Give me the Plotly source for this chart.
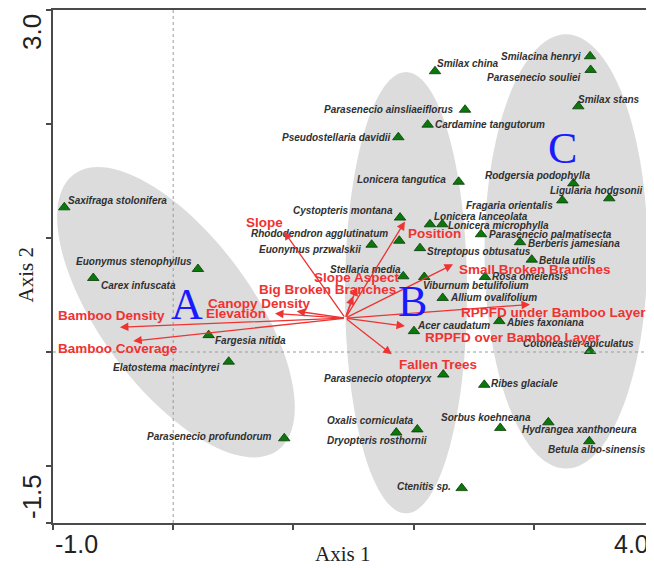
import numpy as np
import plotly.graph_objects as go

# ---------------- data ----------------
species = [
    "Saxifraga stolonifera", "Euonymus stenophyllus", "Carex infuscata", "Fargesia nitida",
    "Elatostema macintyrei", "Parasenecio profundorum", "Smilax china", "Smilacina henryi",
    "Parasenecio souliei", "Smilax stans", "Parasenecio ainsliaeiflorus", "Cardamine tangutorum",
    "Pseudostellaria davidii", "Lonicera tangutica", "Rodgersia podophylla", "Ligularia hodgsonii",
    "Fragaria orientalis", "Cystopteris montana", "Lonicera lanceolata", "Lonicera microphylla",
    "Rhododendron agglutinatum", "Euonymus przwalskii", "Parasenecio palmatisecta", "Berberis jamesiana",
    "Streptopus obtusatus", "Betula utilis", "Stellaria media", "Viburnum betulifolium",
    "Rosa omeiensis", "Allium ovalifolium", "Abies faxoniana", "Acer caudatum",
    "Cotoneaster apiculatus", "Parasenecio otopteryx", "Ribes glaciale", "Sorbus koehneana",
    "Hydrangea xanthoneura", "Betula albo-sinensis", "Oxalis corniculata", "Dryopteris rosthornii",
    "Ctenitis sp.",
]
species_x = [
    -0.906, 0.206, -0.665, 0.295, 0.462, 0.924, 2.178, 3.468,
    3.473, 3.370, 2.428, 2.117, 1.873, 2.375, 3.329, 3.628,
    3.237, 1.887, 2.136, 2.239, 1.881, 1.651, 2.561, 2.885,
    2.053, 2.983, 1.914, 2.089, 2.594, 2.242, 2.713, 2.003,
    3.468, 2.247, 2.588, 2.721, 3.121, 3.462, 2.031, 1.856,
    2.400,
]
species_y = [
    1.269, 0.728, 0.649, 0.148, -0.085, -0.757, 2.463, 2.594,
    2.474, 2.155, 2.125, 1.994, 1.884, 1.493, 1.479, 1.348,
    1.330, 1.179, 1.120, 1.120, 0.976, 0.941, 1.033, 0.963,
    0.911, 0.810, 0.664, 0.658, 0.658, 0.474, 0.271, 0.183,
    0.009, -0.198, -0.288, -0.666, -0.617, -0.783, -0.679, -0.707,
    -1.194,
]

env_vars = [
    "Slope", "Position", "Slope Aspect", "Big Broken Branches", "Canopy Density", "Elevation",
    "Bamboo Density", "Bamboo Coverage", "Small Broken Branches", "RPPFD under Bamboo Layer",
    "RPPFD over Bamboo Layer", "Fallen Trees",
]
env_x = [0.922, 1.928, 1.529, 1.496, 1.027, 0.847, -0.443, -0.332, 2.328, 2.968, 1.928, 1.818]
env_y = [1.057, 1.144, 0.568, 0.489, 0.358, 0.338, 0.218, 0.096, 0.769, 0.417, 0.227, -0.020]
arrow_origin_x = 1.432
arrow_origin_y = 0.297

group_names = ["A", "B", "C"]

x_range = [-1.0, 4.0]
y_range = [-1.5, 3.0]
x_tick_labels = ["-1.0", "4.0"]
y_tick_labels = ["3.0", "-1.5"]

# ---------------- style / layout ----------------
# the page body has an 8px margin, so the figure is 8px smaller than the window
W, H = 646, 560
ML, MR, MT, MB = 45, 0, 0, 45
PX_X = (W - ML - MR) / (x_range[1] - x_range[0])
PX_Y = (H - MT - MB) / (y_range[1] - y_range[0])

RED = "#ef3232"
GREEN = "#0a780a"
ELL = "#dcdcdc"
LAB_FONT = dict(family="Liberation Sans, Arial", size=10, color="#303030", weight="bold", style="italic")
ENV_FONT = dict(family="Liberation Sans, Arial", size=13.5, color=RED, weight="bold")

# label placement: (xanchor, dx px, dy px [screen down])
sp_label_pos = {
    "Saxifraga stolonifera": ("left", 2, -7), "Euonymus stenophyllus": ("right", -4, -8),
    "Carex infuscata": ("left", 6, 7), "Fargesia nitida": ("left", 4, 5),
    "Elatostema macintyrei": ("right", -8, 6), "Parasenecio profundorum": ("right", -10, -2),
    "Smilax china": ("left", 0, -8), "Smilacina henryi": ("right", -7, 0),
    "Parasenecio souliei": ("right", -8, 8), "Smilax stans": ("left", -2, -7),
    "Parasenecio ainsliaeiflorus": ("right", -10, 0), "Cardamine tangutorum": ("left", 5, 0),
    "Pseudostellaria davidii": ("right", -5, 0), "Lonicera tangutica": ("right", -11, -2),
    "Rodgersia podophylla": ("right", 19, -8), "Ligularia hodgsonii": ("right", 35, -8),
    "Fragaria orientalis": ("right", -7, 5), "Cystopteris montana": ("right", -5, -7),
    "Lonicera lanceolata": ("left", 2, -8), "Lonicera microphylla": ("left", 4, 1),
    "Rhododendron agglutinatum": ("right", -9, -7), "Euonymus przwalskii": ("right", -9, 5),
    "Parasenecio palmatisecta": ("left", 6, 0), "Berberis jamesiana": ("left", 6, 1),
    "Streptopus obtusatus": ("left", 5, 3), "Betula utilis": ("left", 5, 1),
    "Stellaria media": ("right", 0, -7), "Viburnum betulifolium": ("left", -3, 9),
    "Rosa omeiensis": ("left", 5, 0), "Allium ovalifolium": ("left", 5, 0),
    "Abies faxoniana": ("left", 5, 1), "Acer caudatum": ("left", 1, -6),
    "Cotoneaster apiculatus": ("right", 46, -7), "Parasenecio otopteryx": ("right", -9, 4),
    "Ribes glaciale": ("left", 5, -1), "Sorbus koehneana": ("right", 33, -10),
    "Hydrangea xanthoneura": ("left", -28, 7), "Betula albo-sinensis": ("left", -43, 8),
    "Oxalis corniculata": ("right", -1, -9), "Dryopteris rosthornii": ("right", 33, 8),
    "Ctenitis sp.": ("right", -9, -2),
}
env_label_pos = {
    "Slope": ("right", 1, -9), "Position": ("left", 1, 12),
    "Slope Aspect": ("center", 0, -10), "Big Broken Branches": ("right", 45, -7),
    "Canopy Density": ("right", 16, -8), "Elevation": ("right", -7, 0),
    "Bamboo Density": ("right", 47, -12), "Bamboo Coverage": ("right", 47, 7),
    "Small Broken Branches": ("left", 4, 5), "RPPFD under Bamboo Layer": ("right", 118, 8),
    "RPPFD over Bamboo Layer": ("left", 18, 11), "Fallen Trees": ("left", 5, 10),
}
# group letters: label position and ellipse geometry (center data, semi-axes px, angle deg)
group_label_pos = {"A": (0.112, 0.417), "B": (1.993, 0.445), "C": (3.240, 1.784)}
group_ellipse = {
    "A": (0.023, 0.349, 172, 76, 53.7),
    "B": (1.937, 0.520, 221.5, 61, 90.0),
    "C": (3.268, 0.882, 218, 81.5, 90.0),
}

fig = go.Figure()

shapes = []
tt = np.linspace(0, 2 * np.pi, 121)
for g in group_names:
    cx, cy, a, b, ang = group_ellipse[g]
    th = np.radians(ang)
    dxp = a * np.cos(tt) * np.cos(th) - b * np.sin(tt) * np.sin(th)
    dyp = a * np.cos(tt) * np.sin(th) + b * np.sin(tt) * np.cos(th)
    xs = cx + dxp / PX_X
    ys = cy - dyp / PX_Y
    path = "M " + " L ".join(f"{x:.4f},{y:.4f}" for x, y in zip(xs, ys)) + " Z"
    shapes.append(dict(type="path", path=path, xref="x", yref="y", fillcolor=ELL,
                       line=dict(width=0), layer="below"))
# dotted zero lines (drawn over the ellipses)
shapes.append(dict(type="line", xref="x", yref="paper", x0=0, x1=0, y0=0, y1=1,
                   line=dict(color="#9a9a9a", width=1, dash="dot"), layer="above"))
shapes.append(dict(type="line", xref="paper", yref="y", x0=0, x1=1, y0=0, y1=0,
                   line=dict(color="#9a9a9a", width=1, dash="dot"), layer="above"))
# right frame
shapes.append(dict(type="line", xref="paper", yref="paper", x0=1, x1=1, y0=0, y1=1,
                   line=dict(color="#c8c8c8", width=1)))

fig.add_trace(go.Scatter(
    x=species_x, y=species_y, mode="markers", text=species, hoverinfo="text",
    marker=dict(symbol="triangle-up", size=10, color=GREEN, line=dict(color="#0a3a0a", width=0.8)),
    showlegend=False, cliponaxis=False,
))

ann = []
for name, x, y in zip(species, species_x, species_y):
    anc, dx, dy = sp_label_pos[name]
    ann.append(dict(x=x, y=y, xref="x", yref="y", text=name, showarrow=False,
                    xanchor=anc, yanchor="middle", xshift=dx, yshift=-dy, font=LAB_FONT))

for name, x, y in zip(env_vars, env_x, env_y):
    ann.append(dict(x=x, y=y, ax=arrow_origin_x, ay=arrow_origin_y, xref="x", yref="y",
                    axref="x", ayref="y", text="", showarrow=True, arrowhead=2,
                    arrowsize=1.3, arrowwidth=1.3, arrowcolor=RED, standoff=0, startstandoff=0))
    anc, dx, dy = env_label_pos[name]
    ann.append(dict(x=x, y=y, xref="x", yref="y", text=name, showarrow=False,
                    xanchor=anc, yanchor="middle", xshift=dx, yshift=-dy, font=ENV_FONT))

for g in group_names:
    gx, gy = group_label_pos[g]
    ann.append(dict(x=gx, y=gy, xref="x", yref="y", text=g, showarrow=False,
                    xanchor="center", yanchor="middle",
                    font=dict(family="Liberation Serif, Times New Roman", size=44, color="#1a1aff")))

TICK_FONT = dict(family="Liberation Sans, Arial", size=25, color="#222")
ann.append(dict(x=x_range[0], y=0, xref="x", yref="paper", text=x_tick_labels[0], showarrow=False,
                xanchor="left", yanchor="middle", yshift=-21, font=TICK_FONT))
ann.append(dict(x=x_range[1], y=0, xref="x", yref="paper", text=x_tick_labels[1], showarrow=False,
                xanchor="right", yanchor="middle", xshift=-3, yshift=-21, font=TICK_FONT))
ann.append(dict(x=0, y=y_range[1], xref="paper", yref="y", text=y_tick_labels[0], showarrow=False,
                xanchor="center", yanchor="middle", xshift=-21, yshift=-22, textangle=-90,
                font=dict(family="Liberation Sans, Arial", size=26, color="#222")))
ann.append(dict(x=0, y=y_range[0], xref="paper", yref="y", text=y_tick_labels[1], showarrow=False,
                xanchor="center", yanchor="middle", xshift=-21, yshift=26, textangle=-90,
                font=dict(family="Liberation Sans, Arial", size=26, color="#222")))
TITLE_FONT = dict(family="Liberation Serif, Times New Roman", size=21, color="#222")
ann.append(dict(x=0.5, y=0, xref="paper", yref="paper", text="Axis 1", showarrow=False,
                xanchor="center", yanchor="middle", xshift=-11, yshift=-31, font=TITLE_FONT))
ann.append(dict(x=0, y=0.5, xref="paper", yref="paper", text="Axis 2", showarrow=False,
                xanchor="center", yanchor="middle", xshift=-28, yshift=-9, textangle=-90,
                font=TITLE_FONT))

fig.update_layout(
    width=W, height=H, margin=dict(l=ML, r=MR, t=MT, b=MB, pad=0),
    paper_bgcolor="white", plot_bgcolor="white",
    shapes=shapes, annotations=ann, showlegend=False,
    xaxis=dict(range=x_range, showgrid=False, zeroline=False, showline=True, linecolor="#4a4a4a",
               linewidth=2, mirror=True, ticks="outside", ticklen=5, tickwidth=1.5, tickcolor="#4a4a4a",
               tickvals=[-1, 0, 1, 2, 3, 4], showticklabels=False, fixedrange=True),
    yaxis=dict(range=y_range, showgrid=False, zeroline=False, showline=True, linecolor="#4a4a4a",
               linewidth=2, mirror=False, ticks="outside", ticklen=5, tickwidth=1.5, tickcolor="#4a4a4a",
               tickvals=[-1.5, -1, 0, 1, 2, 3], showticklabels=False, fixedrange=True),
)

fig.write_html("out.html")
